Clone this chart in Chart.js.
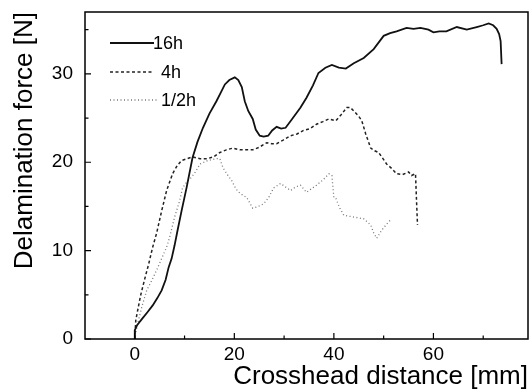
<!DOCTYPE html>
<html>
<head>
<meta charset="utf-8">
<script src="https://cdn.jsdelivr.net/npm/chart.js@4.4.0/dist/chart.umd.min.js"></script>
<style>
    html, body { margin: 0; padding: 0; background: #ffffff; }
    #wrap { width: 529px; height: 392px; }
</style>
</head>
<body>
<div id="wrap"><canvas id="forceChart" width="529" height="392"></canvas></div>
<script>

/* =========================
   DATA
========================= */

const seriesNames = ["16h", "4h", "1/2h"];

const dist16h = [
    0, 0, 0.5, 1.5, 2.5, 3.6, 4.5, 5.4, 6.2, 6.8, 7.4, 8.0, 8.6, 9.4, 10.4,
    11.6, 12.6, 13.7, 15.0, 16.4, 17.3, 18.1, 19.0, 20.1, 20.8, 21.5, 22.1,
    22.8, 23.7, 24.3, 25.1, 25.9, 26.8, 27.6, 28.5, 29.4, 30.3, 31.5, 33.3,
    34.5, 35.8, 36.9, 38.3, 39.6, 41.0, 42.4, 44.0, 46.0, 48.0, 50.0, 51.3,
    52.6, 54.6, 56.0, 57.4, 59.0, 60.0, 61.2, 62.6, 64.7, 66.7, 68.7, 70.0,
    71.1, 72.0, 72.7, 73.2, 73.5, 73.7
];
const force16h = [
    0, 1.0, 1.6, 2.3, 3.0, 3.8, 4.6, 5.5, 6.7, 8.1, 9.1, 10.6, 12.3, 14.5, 17.1,
    20.5, 22.3, 23.9, 25.5, 26.9, 27.9, 28.8, 29.3, 29.6, 29.3, 28.5, 26.9,
    25.8, 24.9, 23.7, 23.0, 22.9, 23.0, 23.6, 24.0, 23.8, 23.9, 24.8, 26.2,
    27.3, 28.7, 30.1, 30.7, 31.0, 30.7, 30.6, 31.2, 31.8, 32.8, 34.3, 34.6,
    34.8, 35.2, 35.1, 35.2, 35.0, 34.7, 34.8, 34.8, 35.3, 35.0, 35.3, 35.5,
    35.7, 35.5, 35.1, 34.5, 33.7, 31.1
];

const dist4h = [
    0, 0.2, 0.5, 1.2, 2.0, 2.8, 3.6, 4.4, 5.4, 6.4, 7.6, 8.5, 9.4, 10.5, 11.6,
    13.1, 14.5, 15.8, 17.1, 18.4, 19.7, 21.1, 22.5, 23.7, 25.0, 26.5, 27.5,
    28.5, 29.8, 31.3, 32.6, 33.9, 35.2, 36.5, 37.8, 39.0, 40.4, 41.5, 42.6,
    43.3, 44.0, 45.0, 45.6, 46.4, 47.4, 48.2, 49.0, 50.6, 51.6, 52.6, 53.8,
    55.0, 55.6, 56.4, 56.6, 56.8
];
const force4h = [
    0, 2.1, 3.0, 5.0, 6.8, 8.5, 10.4, 12.0, 14.5, 16.8, 18.7, 19.6, 20.2, 20.4, 20.6,
    20.4, 20.4, 20.6, 21.1, 21.4, 21.6, 21.4, 21.4, 21.4, 21.7, 22.2, 22.1,
    22.1, 22.5, 23.0, 23.2, 23.6, 23.8, 24.3, 24.6, 24.9, 24.7, 25.4, 26.2,
    26.2, 25.8, 25.2, 24.7, 23.2, 21.6, 21.3, 21.1, 19.8, 19.3, 18.7, 18.6,
    18.9, 18.5, 18.7, 15.7, 12.9
];

const distHalf = [
    0, 0.3, 0.6, 1.5, 2.4, 3.4, 4.4, 5.4, 6.4, 7.0, 8.0, 9.0, 9.6, 10.5, 11.4,
    12.3, 13.1, 14.7, 16.4, 17.1, 17.7, 18.6, 19.5, 20.3, 21.1, 22.5, 23.7,
    24.8, 25.9, 26.9, 27.9, 29.3, 30.3, 31.3, 32.3, 33.3, 34.5, 35.5, 36.5,
    37.8, 39.0, 39.6, 40.0, 40.4, 41.2, 42.0, 43.0, 44.0, 45.0, 46.0, 47.4,
    48.0, 48.6, 49.6, 50.6, 51.6
];
const forceHalf = [
    0, 1.0, 1.8, 3.8, 5.5, 6.6, 7.8, 9.1, 10.4, 11.5, 13.8, 15.6, 17.1, 17.8, 18.3,
    19.0, 19.8, 20.2, 20.4, 20.4, 19.4, 18.6, 17.9, 17.0, 16.5, 16.0, 14.8,
    15.0, 15.3, 16.0, 17.1, 17.6, 17.2, 16.8, 17.2, 17.4, 16.6, 17.0, 17.4,
    18.0, 18.7, 18.5, 16.0, 15.9, 14.8, 14.0, 13.9, 13.8, 13.7, 13.6, 12.9,
    12.0, 11.4, 12.3, 13.0, 13.6
];

const xTicks = [0, 20, 40, 60];
const xMinorTicks = [10, 30, 50, 70];
const yTicks = [0, 10, 20, 30];
const yMinorTicks = [5, 15, 25, 35];

/* =========================
   STYLES
========================= */

const FONT = "'Liberation Sans', Arial, Helvetica, sans-serif";

const lineStyles = [
    { color: "#111111", width: 1.8, dash: [] },
    { color: "#222222", width: 1.5, dash: [3, 2.5] },
    { color: "#777777", width: 1.3, dash: [1, 2.5] }
];

function toPoints(xs, ys) {
    return xs.map((x, i) => ({ x: x, y: ys[i] }));
}

/* =========================
   FRAME, TICKS, LEGEND
========================= */

const framePlugin = {

    id: "frameAndLegend",

    afterDraw(chart) {

        const ctx = chart.ctx;
        const area = chart.chartArea;
        const xs = chart.scales.x;
        const ys = chart.scales.y;

        ctx.save();
        ctx.strokeStyle = "#000000";
        ctx.lineWidth = 1.5;
        ctx.setLineDash([]);
        ctx.strokeRect(area.left, area.top, area.right - area.left, area.bottom - area.top);

        ctx.lineWidth = 1.2;
        ctx.beginPath();

        xTicks.forEach(v => {
            const px = xs.getPixelForValue(v);
            ctx.moveTo(px, area.bottom);
            ctx.lineTo(px, area.bottom - 6);
        });
        xMinorTicks.forEach(v => {
            const px = xs.getPixelForValue(v);
            ctx.moveTo(px, area.bottom);
            ctx.lineTo(px, area.bottom - 3.5);
        });
        yTicks.forEach(v => {
            const py = ys.getPixelForValue(v);
            ctx.moveTo(area.left, py);
            ctx.lineTo(area.left + 6, py);
        });
        yMinorTicks.forEach(v => {
            const py = ys.getPixelForValue(v);
            ctx.moveTo(area.left, py);
            ctx.lineTo(area.left + 3.5, py);
        });
        ctx.stroke();

        // legend inside the plot, upper left
        const rows = [
            { y: 43, x0: 110, x1: 154, tx: 153 },
            { y: 72, x0: 110, x1: 153, tx: 161 },
            { y: 100, x0: 110, x1: 157, tx: 161 }
        ];

        rows.forEach((row, i) => {
            const st = lineStyles[i];
            ctx.strokeStyle = st.color;
            ctx.lineWidth = st.width;
            ctx.setLineDash(st.dash);
            ctx.beginPath();
            ctx.moveTo(row.x0, row.y);
            ctx.lineTo(row.x1, row.y);
            ctx.stroke();

            ctx.setLineDash([]);
            ctx.fillStyle = "#000000";
            ctx.font = "18px " + FONT;
            ctx.textAlign = "left";
            ctx.textBaseline = "middle";
            ctx.fillText(seriesNames[i], row.tx, row.y + 1);
        });

        ctx.restore();
    }
};

/* =========================
   CHART
========================= */

const ctx = document.getElementById("forceChart");

const forceChart = new Chart(ctx, {

    type: "line",

    data: {
        datasets: [
            [dist16h, force16h],
            [dist4h, force4h],
            [distHalf, forceHalf]
        ].map((pair, i) => ({
            label: seriesNames[i],
            data: toPoints(pair[0], pair[1]),
            borderColor: lineStyles[i].color,
            borderWidth: lineStyles[i].width,
            borderDash: lineStyles[i].dash,
            pointRadius: 0,
            tension: 0,
            fill: false
        }))
    },

    options: {

        responsive: false,

        animation: false,

        layout: {
            padding: { top: 12, right: 1, left: 0, bottom: 0 }
        },

        plugins: {
            legend: { display: false },
            tooltip: { enabled: false }
        },

        scales: {

            x: {
                type: "linear",
                min: -10,
                max: 79,
                afterBuildTicks: scale => {
                    scale.ticks = xTicks.map(v => ({ value: v }));
                },
                afterFit: scale => {
                    scale.height = 53;
                    scale.paddingLeft = 0;
                    scale.paddingRight = 0;
                },
                grid: { display: false, drawTicks: false },
                border: { display: false },
                ticks: {
                    color: "#000000",
                    padding: 4,
                    maxRotation: 0,
                    font: { family: FONT, size: 19 }
                },
                title: {
                    display: true,
                    text: "Crosshead distance [mm]",
                    align: "end",
                    color: "#000000",
                    padding: { top: 0, bottom: 0 },
                    font: { family: FONT, size: 26 }
                }
            },

            y: {
                type: "linear",
                min: 0,
                max: 37,
                afterBuildTicks: scale => {
                    scale.ticks = yTicks.map(v => ({ value: v }));
                },
                afterFit: scale => {
                    scale.width = 85;
                    scale.paddingTop = 0;
                    scale.paddingBottom = 0;
                },
                grid: { display: false, drawTicks: false },
                border: { display: false },
                ticks: {
                    color: "#000000",
                    padding: 12,
                    font: { family: FONT, size: 19 }
                },
                title: {
                    display: true,
                    text: "Delamination force [N]",
                    align: "end",
                    color: "#000000",
                    padding: { top: 9, bottom: 0 },
                    font: { family: FONT, size: 26 }
                }
            }
        }
    },

    plugins: [framePlugin]

});

</script>
</body>
</html>
